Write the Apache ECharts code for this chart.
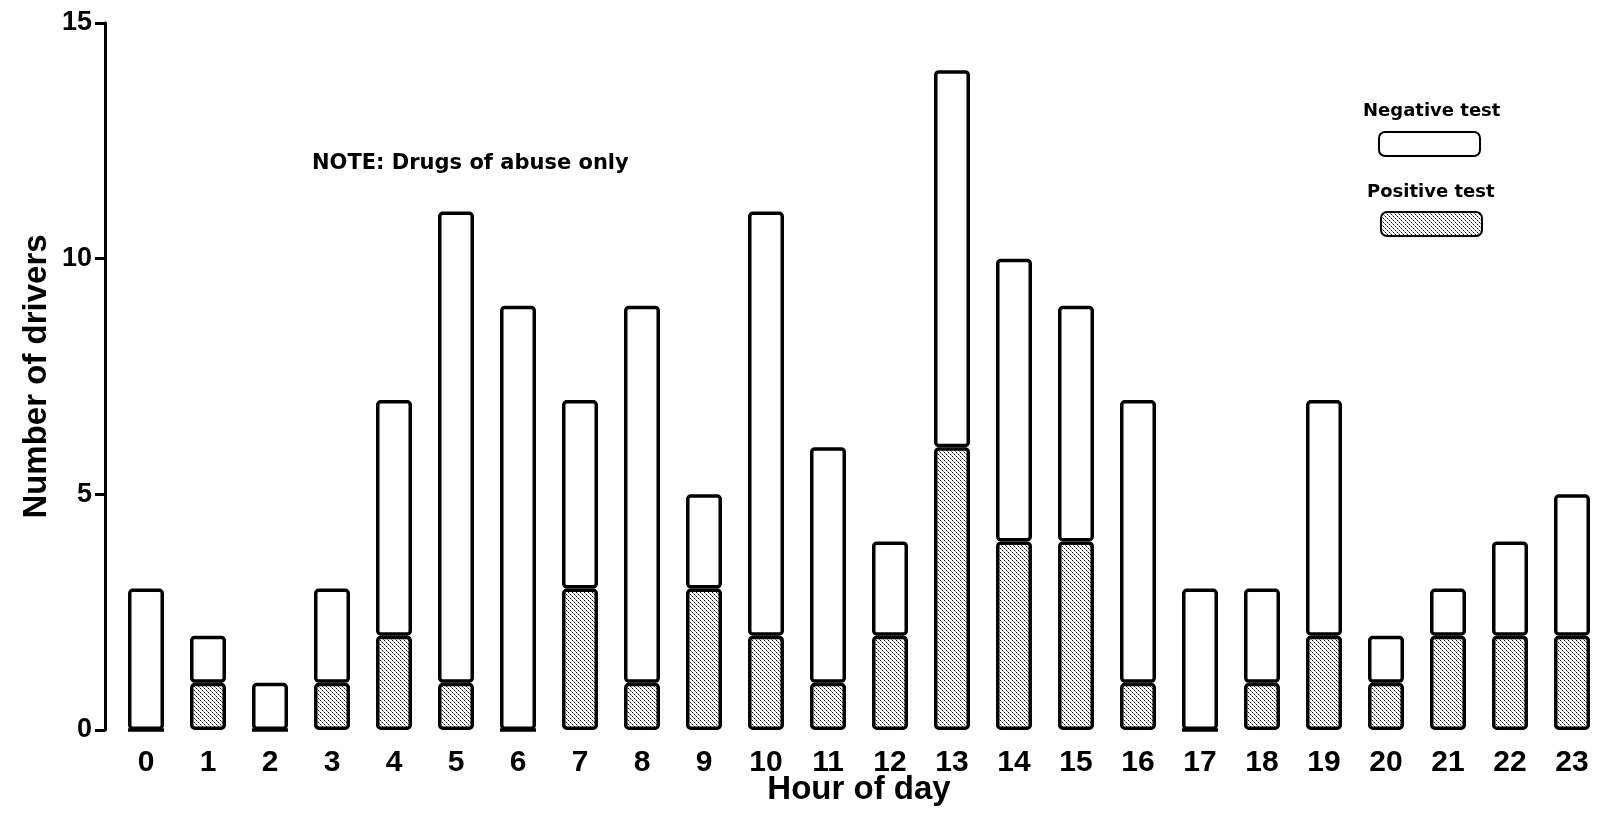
<!DOCTYPE html>
<html>
<head>
<meta charset="utf-8">
<script src="https://cdn.jsdelivr.net/npm/echarts@6/dist/echarts.min.js"></script>
<style>
html,body{margin:0;padding:0;background:#fff;}
#chart{width:1603px;height:835px;}
</style>
</head>
<body>
<div id="chart"></div>
<script>
const hours = ['0','1','2','3','4','5','6','7','8','9','10','11','12','13','14','15','16','17','18','19','20','21','22','23'];
const positive = [0,1,0,1,2,1,0,3,1,3,2,1,2,6,4,4,1,0,1,2,1,2,2,2];
const negative = [3,1,1,2,5,10,9,4,8,2,9,5,2,8,6,5,6,3,2,5,1,1,2,3];
const yTicks = [0,5,10,15];
const seriesNames = ['Positive test','Negative test'];
const noteText = 'NOTE: Drugs of abuse only';

// stipple pattern
const pc = document.createElement('canvas');
pc.width = 4; pc.height = 4;
const g = pc.getContext('2d');
g.fillStyle = '#ffffff'; g.fillRect(0,0,4,4);
g.fillStyle = '#000000';
g.fillRect(0,0,1,1); g.fillRect(2,2,1,1);
g.fillStyle = '#888888';
g.fillRect(1,1,1,1); g.fillRect(3,3,1,1);
const stipple = {image: pc, repeat: 'repeat'};

const AX = '"Liberation Sans", Arial, sans-serif';
const WIDE = '"DejaVu Sans", "Liberation Sans", sans-serif';
const chart = echarts.init(document.getElementById('chart'));
chart.setOption({
  backgroundColor: '#fff',
  animation: false,
  title: [
    {text: noteText, left: 307, top: 148, textStyle: {fontFamily: WIDE, fontWeight: 'bold', fontSize: 21, color: '#000'}},
    {text: seriesNames[1], left: 1358, top: 97, textStyle: {fontFamily: WIDE, fontWeight: 'bold', fontSize: 18, color: '#000'}},
    {text: seriesNames[0], left: 1362, top: 178, textStyle: {fontFamily: WIDE, fontWeight: 'bold', fontSize: 18, color: '#000'}}
  ],
  legend: [
    {data: [seriesNames[1]], left: 1378, top: 131, itemWidth: 101, itemHeight: 24, icon: 'roundRect', selectedMode: false, formatter: function(){return '';}, padding: 0},
    {data: [seriesNames[0]], left: 1380, top: 211, itemWidth: 101, itemHeight: 24, icon: 'roundRect', selectedMode: false, formatter: function(){return '';}, padding: 0}
  ],
  grid: {left: 115, right: -5, top: 23, bottom: 105, containLabel: false},
  xAxis: {
    type: 'category',
    data: hours,
    name: 'Hour of day',
    nameLocation: 'middle',
    nameGap: 43,
    nameMoveOverlap: false,
    nameTextStyle: {fontFamily: AX, fontWeight: 'bold', fontSize: 33, color: '#000'},
    axisLine: {show: false},
    axisTick: {show: false},
    axisLabel: {fontFamily: AX, fontWeight: 'bold', fontSize: 30, color: '#000', margin: 18}
  },
  yAxis: {
    type: 'value',
    min: yTicks[0],
    max: yTicks[yTicks.length-1],
    interval: yTicks[1]-yTicks[0],
    offset: 10,
    name: 'Number of drivers',
    nameLocation: 'middle',
    nameGap: 52,
    nameMoveOverlap: false,
    nameTextStyle: {fontFamily: AX, fontWeight: 'bold', fontSize: 33, color: '#000'},
    axisLine: {show: true, lineStyle: {color: '#000', width: 3}},
    axisTick: {show: true, length: 10, lineStyle: {color: '#000', width: 3}},
    splitLine: {show: false},
    axisLabel: {fontFamily: AX, fontWeight: 'bold', fontSize: 27, color: '#000', margin: 13}
  },
  series: [
    {
      name: seriesNames[0], type: 'bar', stack: 'total', data: positive, barWidth: 36,
      itemStyle: {color: stipple, borderColor: '#000', borderWidth: 3.5, borderRadius: 3}
    },
    {
      name: seriesNames[1], type: 'bar', stack: 'total', data: negative, barWidth: 36,
      itemStyle: {color: '#ffffff', borderColor: '#000', borderWidth: 3.5, borderRadius: 3}
    }
  ]
});
</script>
</body>
</html>
